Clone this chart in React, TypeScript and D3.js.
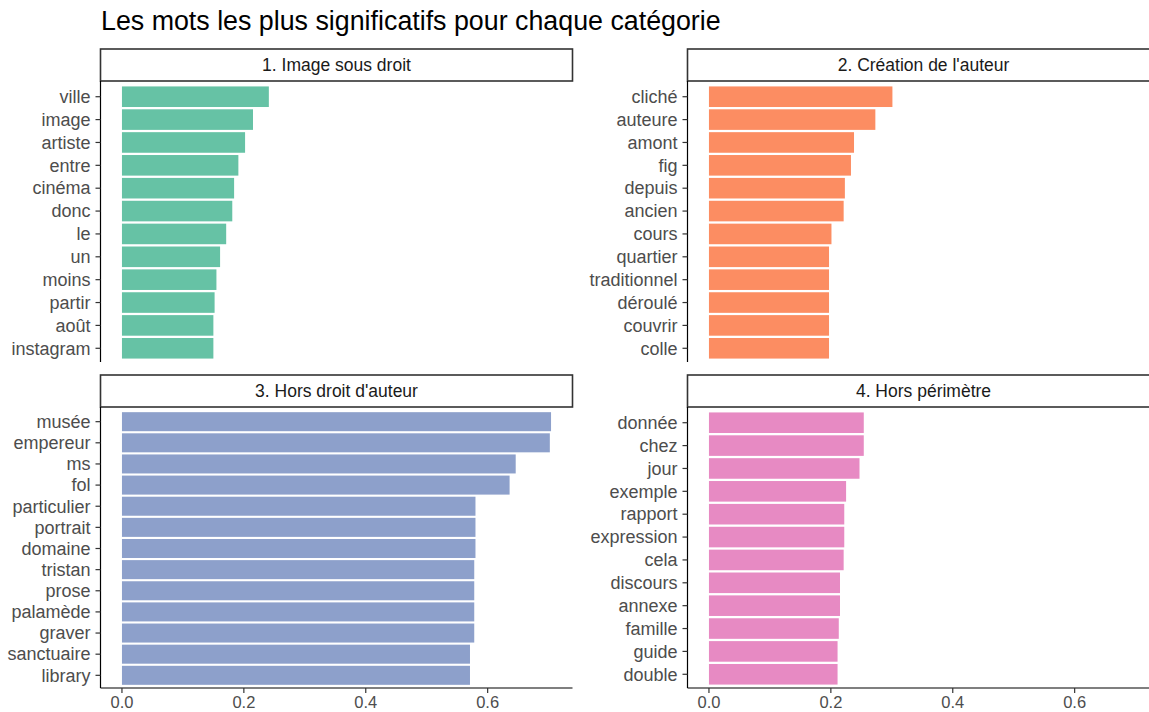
import React from "react";
import * as d3 from "d3";

const title = "Les mots les plus significatifs pour chaque catégorie";

const categories = [
  "1. Image sous droit",
  "2. Création de l'auteur",
  "3. Hors droit d'auteur",
  "4. Hors périmètre",
];

const words1 = ["ville", "image", "artiste", "entre", "cinéma", "donc", "le", "un", "moins", "partir", "août", "instagram"];
const values1 = [0.241, 0.215, 0.202, 0.191, 0.184, 0.181, 0.171, 0.161, 0.155, 0.152, 0.15, 0.15];

const words2 = ["cliché", "auteure", "amont", "fig", "depuis", "ancien", "cours", "quartier", "traditionnel", "déroulé", "couvrir", "colle"];
const values2 = [0.301, 0.273, 0.238, 0.233, 0.223, 0.221, 0.201, 0.197, 0.197, 0.197, 0.197, 0.197];

const words3 = ["musée", "empereur", "ms", "fol", "particulier", "portrait", "domaine", "tristan", "prose", "palamède", "graver", "sanctuaire", "library"];
const values3 = [0.704, 0.702, 0.646, 0.636, 0.58, 0.58, 0.58, 0.578, 0.578, 0.578, 0.578, 0.571, 0.571];

const words4 = ["donnée", "chez", "jour", "exemple", "rapport", "expression", "cela", "discours", "annexe", "famille", "guide", "double"];
const values4 = [0.254, 0.254, 0.247, 0.225, 0.222, 0.222, 0.221, 0.215, 0.215, 0.213, 0.211, 0.211];

const xTicks = [0, 0.2, 0.4, 0.6];
const colors = ["#66C2A5", "#FC8D62", "#8DA0CB", "#E78AC3"];

const W = 1149;
const H = 712;
const font = "'Liberation Sans', Arial, sans-serif";

const colLeft = [100.5, 687.5];
const panelW = 472;
const stripTop = [49, 375];
const stripH = 32;
const stripGap = 2;
const panelH = 279;

const allValues = [...values1, ...values2, ...values3, ...values4];
const maxV = d3.max(allValues) as number;

const Panel = ({ idx, words, values }: { idx: number; words: string[]; values: number[] }) => {
  const col = idx % 2;
  const row = Math.floor(idx / 2);
  const left = colLeft[col];
  const sTop = stripTop[row];
  const top = sTop + stripH + stripGap;
  const bottom = top + panelH;

  const x = d3.scaleLinear().domain([-0.05 * maxV, 1.05 * maxV]).range([left, left + panelW]);
  const y = d3
    .scaleBand<string>()
    .domain(words)
    .range([top, bottom])
    .paddingInner(0.1)
    .paddingOuter(0.15);

  return (
    <g>
      {/* strip */}
      <rect x={left} y={sTop} width={panelW} height={stripH} fill="white" stroke="#333" strokeWidth={1.6} />
      <text x={left + panelW / 2} y={sTop + stripH / 2} dy="0.35em" textAnchor="middle" fontSize={17.5} fill="#1A1A1A" fontFamily={font}>
        {categories[idx]}
      </text>
      {/* bars */}
      {words.map((w, i) => (
        <rect key={w} x={x(0)} y={y(w)} width={x(values[i]) - x(0)} height={y.bandwidth()} fill={colors[idx]} />
      ))}
      {/* y axis */}
      <line x1={left} x2={left} y1={sTop + stripH} y2={bottom} stroke="black" strokeWidth={1.2} />
      {words.map((w) => {
        const cy = (y(w) as number) + y.bandwidth() / 2;
        return (
          <g key={"t" + w}>
            <line x1={left - 5} x2={left} y1={cy} y2={cy} stroke="#333" strokeWidth={1.2} />
            <text x={left - 10} y={cy} dy="0.35em" textAnchor="end" fontSize={18} fill="#4D4D4D" fontFamily={font}>
              {w}
            </text>
          </g>
        );
      })}
      {/* x axis, bottom row only */}
      {row === 1 && (
        <g>
          <line x1={left} x2={left + panelW} y1={bottom} y2={bottom} stroke="black" strokeWidth={1.2} />
          {xTicks.map((t) => (
            <g key={t}>
              <line x1={x(t)} x2={x(t)} y1={bottom} y2={bottom + 5} stroke="#333" strokeWidth={1.2} />
              <text x={x(t)} y={bottom + 14} dy="0.35em" textAnchor="middle" fontSize={16.5} fill="#4D4D4D" fontFamily={font}>
                {d3.format(".1f")(t)}
              </text>
            </g>
          ))}
        </g>
      )}
    </g>
  );
};

export default function App() {
  return (
    <div style={{ position: "absolute", left: 0, top: 0 }}>
      <svg width={W} height={H} style={{ display: "block", background: "white" }}>
        <rect width={W} height={H} fill="white" />
        <text x={101} y={30} fontSize={26.8} fill="black" fontFamily={font}>
          {title}
        </text>
        <Panel idx={0} words={words1} values={values1} />
        <Panel idx={1} words={words2} values={values2} />
        <Panel idx={2} words={words3} values={values3} />
        <Panel idx={3} words={words4} values={values4} />
      </svg>
    </div>
  );
}
